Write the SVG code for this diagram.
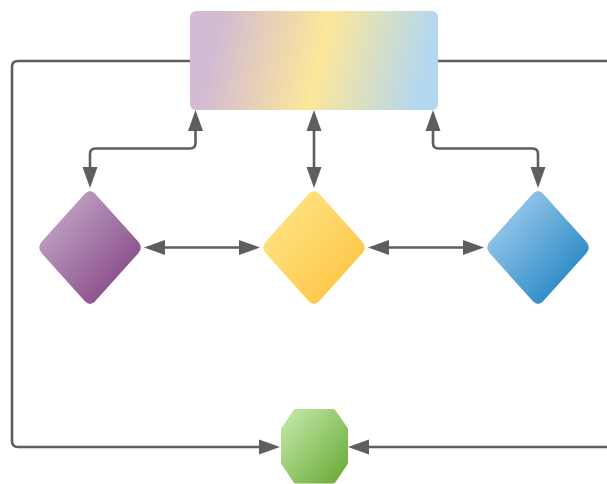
<svg xmlns="http://www.w3.org/2000/svg" width="607" height="484" viewBox="0 0 607 484">
  <defs>
    <style>
      .link { fill: none; stroke: #5e5e5e; stroke-width: 2.6; stroke-linejoin: round; }
      .both { marker-start: url(#head); marker-end: url(#head); }
      .end { marker-end: url(#head); }
    </style>
    <marker id="head" markerUnits="userSpaceOnUse" markerWidth="24" markerHeight="18" refX="11" refY="8" orient="auto-start-reverse">
      <path d="M0,0.5 L21,8 L0,15.5 Z" fill="#5e5e5e"/>
    </marker>
    <path id="diamond" d="M84.65,193.95 Q90,188 95.35,193.95 L138.15,241.55 Q143.5,247.5 138.15,253.45 L95.35,301.05 Q90,307 84.65,301.05 L41.85,253.45 Q36.5,247.5 41.85,241.55 Z"/>
    <linearGradient id="gHub" gradientUnits="userSpaceOnUse" x1="204" y1="35" x2="434" y2="88">
      <stop offset="0.05" stop-color="#d2bbd3"/>
      <stop offset="0.5" stop-color="#fde79a"/>
      <stop offset="0.95" stop-color="#b3d7ef"/>
    </linearGradient>
    <linearGradient id="gPurple" x1="0" y1="0" x2="1" y2="1">
      <stop offset="0.15" stop-color="#c0a3c3"/>
      <stop offset="0.85" stop-color="#884a8a"/>
    </linearGradient>
    <linearGradient id="gYellow" x1="0" y1="0" x2="1" y2="1">
      <stop offset="0.15" stop-color="#ffe384"/>
      <stop offset="0.85" stop-color="#fdc643"/>
    </linearGradient>
    <linearGradient id="gBlue" x1="0" y1="0" x2="1" y2="1">
      <stop offset="0.15" stop-color="#9bc9eb"/>
      <stop offset="0.85" stop-color="#2587c4"/>
    </linearGradient>
    <linearGradient id="gGreen" x1="0" y1="0" x2="1" y2="1">
      <stop offset="0.1" stop-color="#bae39e"/>
      <stop offset="0.9" stop-color="#72b041"/>
    </linearGradient>
  </defs>

  <!-- connectors -->
  <g id="connectors">
    <path class="link end" d="M190,61 H18 Q12,61 12,67 V441 Q12,447 18,447 H270"/>
    <path class="link" d="M438,61 H607"/>
    <path class="link end" d="M607,447 H358"/>
    <path class="link both" d="M195.5,120 V143 Q195.5,148.5 190,148.5 H95.5 Q90,148.5 90,154 V178"/>
    <path class="link both" d="M314,120 V178"/>
    <path class="link both" d="M433,120 V143 Q433,148.5 438.5,148.5 H532.5 Q538,148.5 538,154 V178"/>
    <path class="link both" d="M154,247.5 H250"/>
    <path class="link both" d="M378,247.5 H474"/>
  </g>

  <!-- hub -->
  <g id="hub">
    <rect x="190" y="11" width="248" height="99" rx="6" ry="6" fill="url(#gHub)"/>
  </g>

  <!-- decision diamonds -->
  <g id="diamond-purple">
    <use href="#diamond" fill="url(#gPurple)"/>
  </g>
  <g id="diamond-yellow" transform="translate(224,0)">
    <use href="#diamond" fill="url(#gYellow)"/>
  </g>
  <g id="diamond-blue" transform="translate(448,0)">
    <use href="#diamond" fill="url(#gBlue)"/>
  </g>

  <!-- terminal octagon -->
  <g id="octagon">
    <polygon points="296,412 333,412 345,429.5 345,462.5 333,480.5 296,480.5 284,462.5 284,429.5" fill="url(#gGreen)" stroke="url(#gGreen)" stroke-width="6" stroke-linejoin="round"/>
  </g>
</svg>
